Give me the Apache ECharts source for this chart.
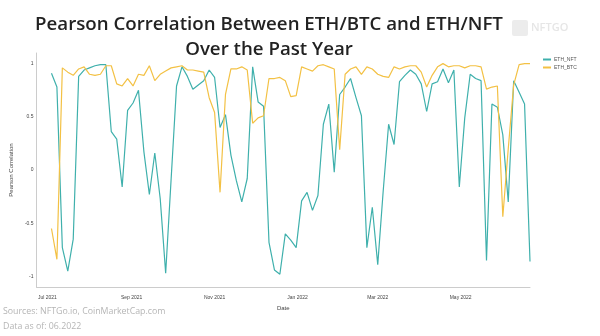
<!DOCTYPE html>
<html><head><meta charset="utf-8">
<script src="https://cdn.jsdelivr.net/npm/echarts@6/dist/echarts.min.js"></script>
<style>html,body{margin:0;padding:0;background:#fff}#c{width:600px;height:336px}</style>
</head><body><div id="c"></div>
<script>
// x categories: observation dates every 4 days starting 2021-07-04
const startYear = 2021, startMonth = 6, startDay = 4, stepDays = 4;
const ethNft = [0.91,0.78,-0.73,-0.95,-0.65,0.88,0.94,0.96,0.98,0.99,
  0.99,0.36,0.29,-0.16,0.56,0.63,0.75,0.17,-0.23,0.16,
  -0.27,-0.97,-0.09,0.79,0.97,0.88,0.76,0.80,0.84,0.94,
  0.87,0.40,0.52,0.14,-0.10,-0.30,-0.08,0.97,0.64,0.60,
  -0.68,-0.94,-0.98,-0.60,-0.66,-0.73,-0.29,-0.21,-0.38,-0.24,
  0.43,0.62,-0.02,0.71,0.78,0.86,0.68,0.51,-0.73,-0.35,
  -0.89,-0.20,0.43,0.24,0.83,0.89,0.94,0.90,0.81,0.55,
  0.81,0.83,0.95,0.82,0.94,-0.16,0.49,0.90,0.86,0.84,
  -0.85,0.62,0.59,0.33,-0.30,0.84,0.73,0.62,-0.86];
const ethBtc = [-0.55,-0.84,0.96,0.92,0.89,0.95,0.97,0.90,0.89,0.90,
  0.98,0.98,0.81,0.79,0.86,0.79,0.90,0.89,0.98,0.84,
  0.90,0.93,0.96,0.97,0.98,0.94,0.94,0.93,0.92,0.68,
  0.54,-0.21,0.71,0.95,0.95,0.97,0.94,0.44,0.49,0.51,
  0.86,0.86,0.87,0.84,0.69,0.70,0.97,0.95,0.93,0.98,
  0.99,0.97,0.95,0.19,0.90,0.95,0.97,0.90,0.97,0.95,
  0.90,0.88,0.87,0.97,0.95,0.97,0.98,0.98,0.92,0.78,
  0.89,0.97,1.00,0.97,0.98,0.98,0.96,0.98,0.98,0.97,
  0.76,0.78,0.79,-0.44,0.20,0.80,0.99,1.00,1.00];
const yTickLabels = ['-1','-0.5','0','0.5','1'];
const monthNames = ['Jan','Feb','Mar','Apr','May','Jun','Jul','Aug','Sep','Oct','Nov','Dec'];

const dates = ethNft.map((_, i) => new Date(startYear, startMonth, startDay + stepDays * i).getTime());
const teal = '#3fb0ac', gold = '#f3c144';

const chart = echarts.init(document.getElementById('c'), null, {renderer: 'canvas'});
chart.setOption({
  animation: false,
  backgroundColor: '#fff',
  title: {
    text: 'Pearson Correlation Between ETH/BTC and ETH/NFT\nOver the Past Year',
    left: 264, top: 7, textAlign: 'center',
    textStyle: {fontFamily: 'Open Sans', fontWeight: 600, fontSize: 18.7, color: '#222', lineHeight: 25}
  },
  legend: {
    orient: 'vertical', left: 538, top: 52, itemWidth: 8, itemHeight: 2, itemGap: 3,
    icon: 'rect',
    textStyle: {fontSize: 5, color: '#555', padding: [0,0,0,-2]},
    data: ['ETH_NFT', 'ETH_BTC']
  },
  grid: {left: 31, right: 70, top: 53, bottom: 49, containLabel: false},
  xAxis: {
    type: 'time',
    min: new Date(2021, 5, 23).getTime(),
    max: new Date(2022, 5, 21).getTime(),
    splitNumber: 12,
    name: 'Date', nameLocation: 'middle', nameGap: 14,
    nameTextStyle: {fontSize: 6, color: '#444'},
    axisLine: {onZero: false, lineStyle: {color: '#ccc', width: 1}},
    axisTick: {show: false},
    splitLine: {show: false},
    axisLabel: {
      fontSize: 5, color: '#444', margin: 8, hideOverlap: false,
      showMinLabel: false, showMaxLabel: false,
      formatter: function (v) {
        const d = new Date(v);
        if (d.getDate() !== 1 || d.getMonth() % 2 !== 0) return '';
        return monthNames[d.getMonth()] + ' ' + d.getFullYear();
      }
    }
  },
  yAxis: {
    type: 'value', min: -1.1, max: 1.1, interval: 0.1,
    name: 'Pearson Correlation', nameLocation: 'middle', nameGap: 15,
    nameTextStyle: {fontSize: 6, color: '#444'},
    axisLine: {show: true, onZero: false, lineStyle: {color: '#ccc', width: 1}},
    axisTick: {show: false},
    splitLine: {show: false},
    axisLabel: {
      fontSize: 5, color: '#444', margin: 3,
      formatter: function (v) {
        const k = Math.round(v * 2);
        if (Math.abs(v * 2 - k) > 1e-6 || Math.abs(k) > 2) return '';
        return yTickLabels[k + 2];
      }
    }
  },
  series: [
    {name: 'ETH_NFT', type: 'line', data: dates.map((d, i) => [d, ethNft[i]]),
     showSymbol: false, lineStyle: {color: teal, width: 1.2}, itemStyle: {color: teal}},
    {name: 'ETH_BTC', type: 'line', data: dates.map((d, i) => [d, ethBtc[i]]),
     showSymbol: false, lineStyle: {color: gold, width: 1.2}, itemStyle: {color: gold}}
  ],
  graphic: [
    {type: 'rect', left: 512, top: 20, shape: {width: 16, height: 16, r: 2}, style: {fill: '#ececec'}},
    {type: 'text', left: 531, top: 22, style: {text: 'NFTGO', fontSize: 11, fontFamily: 'Open Sans', fill: '#e6e6e6', fontWeight: 600}},
    {type: 'text', left: 3, top: 307, style: {text: 'Sources: NFTGo.io, CoinMarketCap.com', fontSize: 8.8, fontFamily: 'Open Sans', fill: '#b5b5b5'}},
    {type: 'text', left: 3, top: 322, style: {text: 'Data as of: 06.2022', fontSize: 8.8, fontFamily: 'Open Sans', fill: '#b5b5b5'}}
  ]
});
</script></body></html>
